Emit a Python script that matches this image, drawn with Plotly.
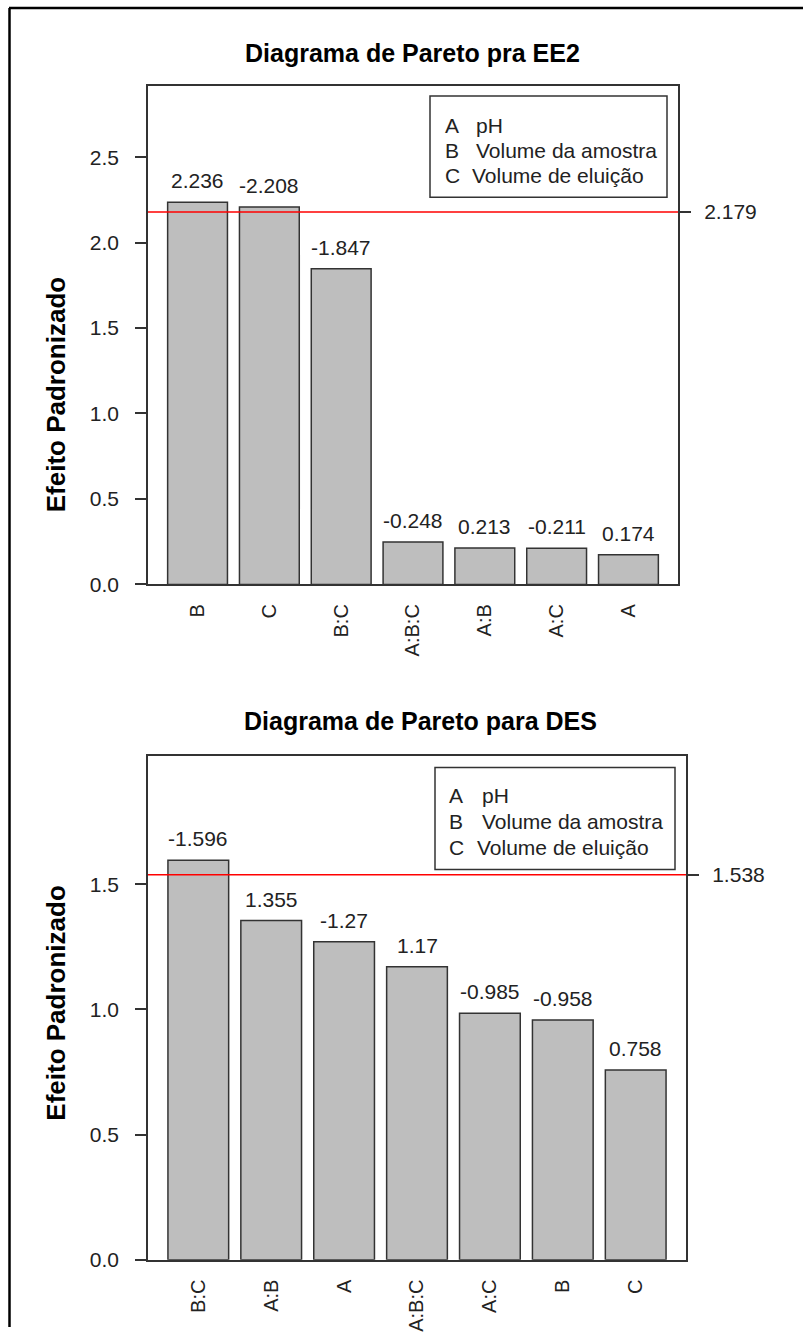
import plotly.graph_objects as go

W, H = 803, 1338
HE = 1338 * 1338 / 1350  # compensates the slight vertical squeeze of the rendered page

# ---------------- data ----------------
title_top = "Diagrama de Pareto pra EE2"
cats_top = ["B", "C", "B:C", "A:B:C", "A:B", "A:C", "A"]
effects_top = [2.236, -2.208, -1.847, -0.248, 0.213, -0.211, 0.174]
threshold_top = 2.179
yticks_top = [0.0, 0.5, 1.0, 1.5, 2.0, 2.5]

title_bot = "Diagrama de Pareto para DES"
cats_bot = ["B:C", "A:B", "A", "A:B:C", "A:C", "B", "C"]
effects_bot = [-1.596, 1.355, -1.27, 1.17, -0.985, -0.958, 0.758]
threshold_bot = 1.538
yticks_bot = [0.0, 0.5, 1.0, 1.5]

legend_letters = ["A", "B", "C"]
legend_names = ["pH", "Volume da amostra", "Volume de eluição"]
ytitle = "Efeito Padronizado"

FONT = "Liberation Sans, Arial, sans-serif"
AX = "#333333"
TXT = "#222222"
FS = 21


def px(x):
    return x / W


def py(y):
    return 1 - y / HE


fig = go.Figure()

bar_style = dict(marker=dict(color="#BEBEBE", line=dict(color="#333333", width=1.5)),
                 width=0.833, showlegend=False, hoverinfo="skip")

fig.add_trace(go.Bar(x=cats_top, y=[abs(v) for v in effects_top], xaxis="x", yaxis="y", **bar_style))
fig.add_trace(go.Bar(x=cats_bot, y=[abs(v) for v in effects_bot], xaxis="x2", yaxis="y2", **bar_style))
# invisible traces to activate the right-side threshold axes
fig.add_trace(go.Scatter(x=[cats_top[0]], y=[threshold_top], xaxis="x", yaxis="y3",
                         mode="markers", marker=dict(opacity=0), showlegend=False, hoverinfo="skip"))
fig.add_trace(go.Scatter(x=[cats_bot[0]], y=[threshold_bot], xaxis="x2", yaxis="y4",
                         mode="markers", marker=dict(opacity=0), showlegend=False, hoverinfo="skip"))

rng_top = [0, 2.916]
rng_bot = [0, 2.014]

xcommon = dict(type="category", range=[-0.69, 6.69], showline=True, mirror=True, linecolor=AX,
               linewidth=1.5, ticks="", tickangle=-90, ticklabelstandoff=10,
               tickfont=dict(family=FONT, size=20, color=TXT), showgrid=False, zeroline=False,
               fixedrange=True)
ycommon = dict(showline=True, mirror=True, linecolor=AX, linewidth=1.5, ticks="outside",
               ticklen=11, tickwidth=1.5, tickcolor=AX, ticklabelstandoff=12,
               tickfont=dict(family=FONT, size=FS, color=TXT), showgrid=False, zeroline=False,
               tickformat=".1f", fixedrange=True)
yright = dict(showline=False, ticks="outside", ticklen=12, tickwidth=1.5, tickcolor=AX,
              side="right", ticklabelstandoff=9, tickfont=dict(family=FONT, size=FS, color=TXT),
              showgrid=False, zeroline=False, fixedrange=True)

fig.update_layout(
    width=W, height=H, margin=dict(l=0, r=0, t=0, b=0),
    paper_bgcolor="white", plot_bgcolor="white", bargap=0.167, showlegend=False,
    xaxis=dict(domain=[px(148), px(678)], anchor="y", **xcommon),
    yaxis=dict(domain=[py(584), py(86)], anchor="x", range=rng_top, tickvals=yticks_top, **ycommon),
    xaxis2=dict(domain=[px(148), px(686)], anchor="y2", **xcommon),
    yaxis2=dict(domain=[py(1259), py(755)], anchor="x2", range=rng_bot, tickvals=yticks_bot, **ycommon),
    yaxis3=dict(overlaying="y", anchor="x", range=rng_top, tickvals=[threshold_top],
                ticktext=[f"{threshold_top:g}"], **yright),
    yaxis4=dict(overlaying="y2", anchor="x2", range=rng_bot, tickvals=[threshold_bot],
                ticktext=[f"{threshold_bot:g}"], **yright),
)

shapes = []
ann = []

# threshold lines
shapes.append(dict(type="line", xref="x domain", x0=0, x1=1, yref="y", y0=threshold_top, y1=threshold_top,
                   line=dict(color="#FF0000", width=1.5), layer="above"))
shapes.append(dict(type="line", xref="x2 domain", x0=0, x1=1, yref="y2", y0=threshold_bot, y1=threshold_bot,
                   line=dict(color="#FF0000", width=1.5), layer="above"))

# value labels above bars
for c, v in zip(cats_top, effects_top):
    ann.append(dict(x=c, y=abs(v), xref="x", yref="y", text=f"{v:g}", showarrow=False,
                    xanchor="center", yanchor="bottom", yshift=8, font=dict(family=FONT, size=FS, color=TXT)))
for c, v in zip(cats_bot, effects_bot):
    ann.append(dict(x=c, y=abs(v), xref="x2", yref="y2", text=f"{v:g}", showarrow=False,
                    xanchor="center", yanchor="bottom", yshift=8, font=dict(family=FONT, size=FS, color=TXT)))

# titles
ann.append(dict(x=px(413), y=py(53), xref="paper", yref="paper", text=f"<b>{title_top}</b>",
                xanchor="center", yanchor="middle", showarrow=False,
                font=dict(family=FONT, size=25, color="black")))
ann.append(dict(x=px(420), y=py(721), xref="paper", yref="paper", text=f"<b>{title_bot}</b>",
                xanchor="center", yanchor="middle", showarrow=False,
                font=dict(family=FONT, size=25, color="black")))
# y-axis titles
for yc in (395, 1003):
    ann.append(dict(x=px(56), y=py(yc), xref="paper", yref="paper", text=f"<b>{ytitle}</b>",
                    xanchor="center", yanchor="middle", textangle=-90, showarrow=False,
                    font=dict(family=FONT, size=26, color="black")))

# legend boxes
for (x0, y0, x1, y1, lx, nx_ab, nx_c, rows) in [
    (430, 96, 667, 197, 443, 474, 470, (125, 150, 175)),
    (435, 767, 675, 869, 447, 480, 475, (795, 821, 847)),
]:
    shapes.append(dict(type="rect", xref="paper", yref="paper", x0=px(x0), x1=px(x1), y0=py(y0), y1=py(y1),
                       line=dict(color=AX, width=1.5), fillcolor="white", layer="above"))
    for i, (let, name) in enumerate(zip(legend_letters, legend_names)):
        ann.append(dict(x=px(lx), y=py(rows[i]), xref="paper", yref="paper", text=let, showarrow=False,
                        xanchor="left", yanchor="middle", font=dict(family=FONT, size=FS, color=TXT)))
        ann.append(dict(x=px(nx_c if i == 2 else nx_ab), y=py(rows[i]), xref="paper", yref="paper", text=name,
                        showarrow=False, xanchor="left", yanchor="middle",
                        font=dict(family=FONT, size=FS, color=TXT)))

# outer frame (top and left)
shapes.append(dict(type="line", xref="paper", yref="paper", x0=px(9), x1=1, y0=py(8), y1=py(8),
                   line=dict(color="black", width=2.5)))
shapes.append(dict(type="line", xref="paper", yref="paper", x0=px(9.5), x1=px(9.5), y0=py(8), y1=0,
                   line=dict(color="black", width=2.5)))

fig.update_layout(shapes=shapes, annotations=ann)
fig.write_html("out.html")
